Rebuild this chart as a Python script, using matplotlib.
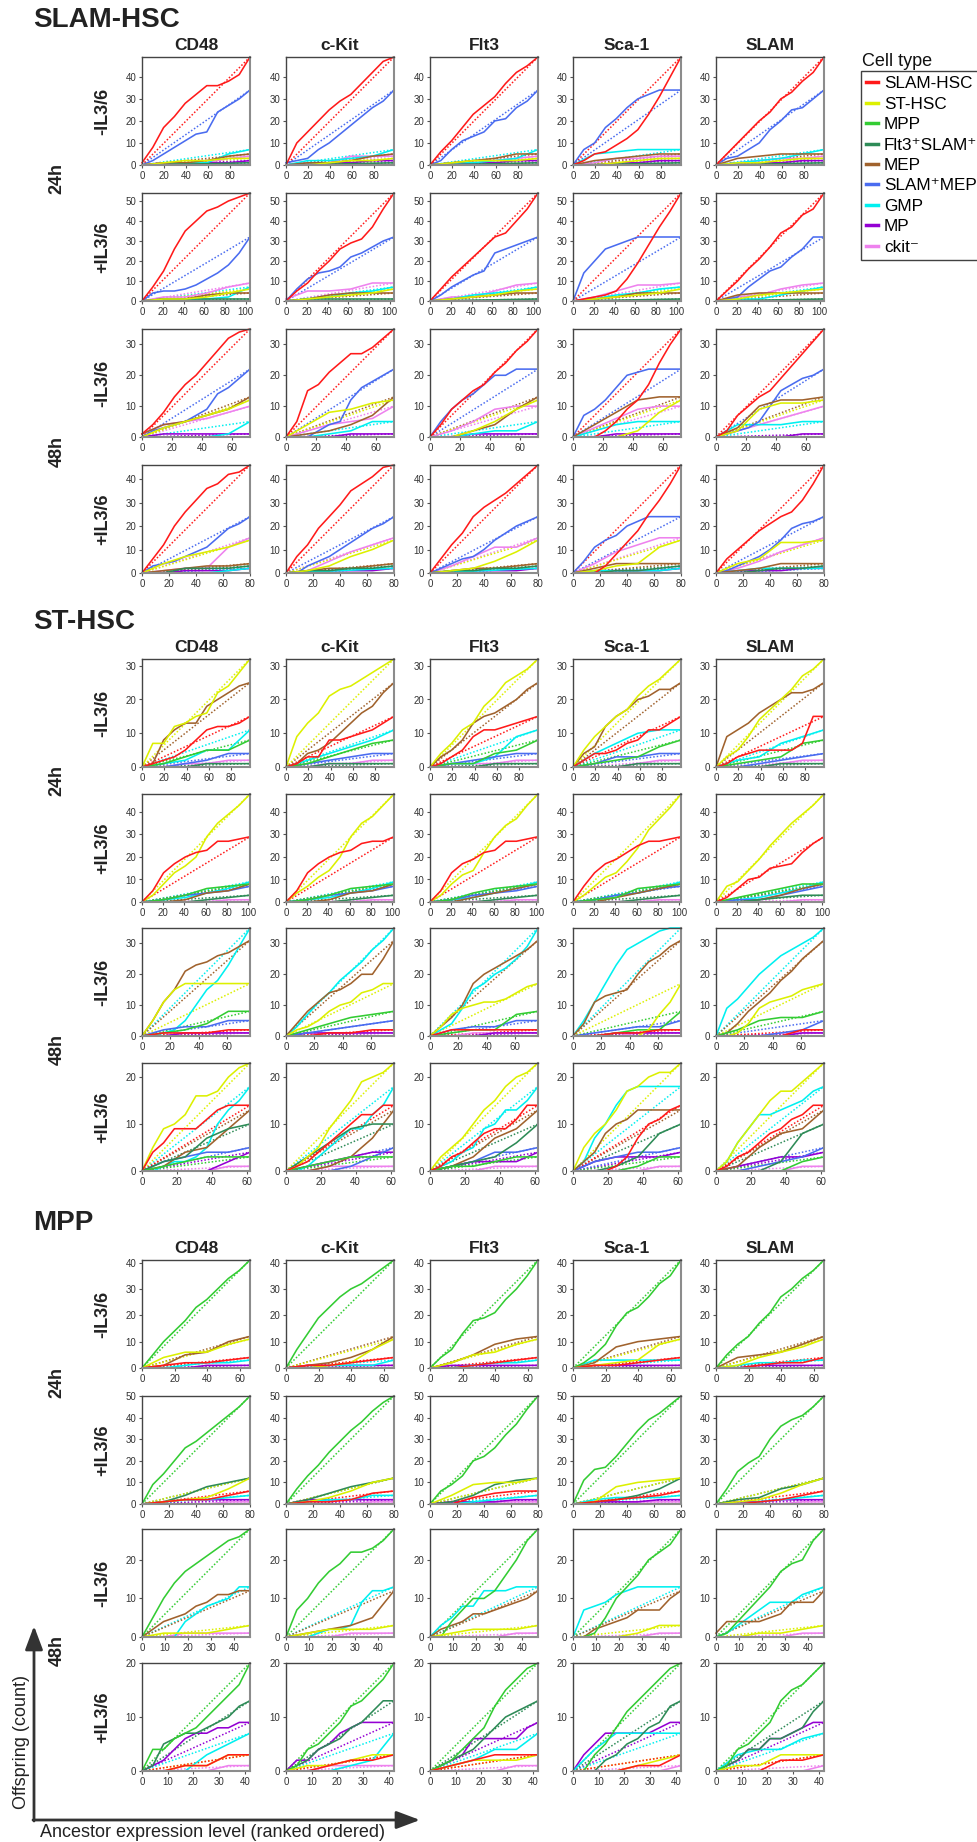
import numpy as np
import matplotlib
matplotlib.use('Agg')
import matplotlib.pyplot as plt
from matplotlib.lines import Line2D
from matplotlib.ticker import MultipleLocator

plt.rcParams['font.family'] = ['Liberation Sans', 'DejaVu Sans']

# cell types (legend order)
keys = ['slam', 'st', 'mpp', 'fs', 'mep', 'smep', 'gmp', 'mp', 'ckit']
labels = ['SLAM-HSC', 'ST-HSC', 'MPP', 'Flt3\u207aSLAM\u207a', 'MEP',
          'SLAM\u207aMEP', 'GMP', 'MP', 'ckit\u207b']
colors = ['#ff1a1a', '#dcf000', '#33cc33', '#2e8b57', '#a0622d',
          '#4a6cf0', '#00f0f0', '#9400d3', '#ee82ee']
markers = ['CD48', 'c-Kit', 'Flt3', 'Sca-1', 'SLAM']
row_labels = ['-IL3/6', '+IL3/6', '-IL3/6', '+IL3/6']

# number of ancestors per row
slam_n = [98, 104, 72, 80]
st_n = [97, 102, 76, 62]
mpp_n = [66, 80, 47, 42]

# total offspring per row
slam_tot = [
    dict(slam=49, st=3, mpp=0, fs=1, mep=5, smep=34, gmp=7, mp=2, ckit=4),
    dict(slam=54, st=6, mpp=0, fs=1, mep=4, smep=32, gmp=7, mp=0, ckit=9),
    dict(slam=35, st=12, mpp=0, fs=0, mep=13, smep=22, gmp=5, mp=1, ckit=10),
    dict(slam=46, st=14, mpp=0, fs=3, mep=4, smep=24, gmp=2, mp=2, ckit=15),
]
st_tot = [
    dict(slam=15, st=32, mpp=8, fs=1, mep=25, smep=4, gmp=11, mp=0, ckit=2),
    dict(slam=29, st=48, mpp=8, fs=3, mep=8, smep=7, gmp=9, mp=0, ckit=1),
    dict(slam=2, st=17, mpp=8, fs=0, mep=31, smep=5, gmp=35, mp=1, ckit=1),
    dict(slam=14, st=23, mpp=3, fs=10, mep=13, smep=5, gmp=18, mp=4, ckit=1),
]
mpp_tot = [
    dict(slam=4, st=11, mpp=41, fs=0, mep=12, smep=0, gmp=3, mp=1, ckit=0),
    dict(slam=6, st=12, mpp=50, fs=12, mep=0, smep=0, gmp=4, mp=2, ckit=1),
    dict(slam=0, st=3, mpp=28, fs=0, mep=12, smep=0, gmp=13, mp=0, ckit=1),
    dict(slam=3, st=3, mpp=20, fs=13, mep=0, smep=0, gmp=7, mp=9, ckit=1),
]

# cumulative offspring read at evenly spaced ranks (0 .. N)
slam_24_minus = {
    'CD48': dict(slam=[1, 8, 17, 22, 28, 32, 36, 36, 38, 41, 49], smep=[0, 2, 5, 8, 11, 14, 15, 24, 27, 30, 34],
                 gmp=[0, 0, 1, 1, 5, 7], mep=[0, 1, 1, 2, 4, 5], ckit=[0, 1, 1, 1, 3, 4], st=[0, 1, 2, 2, 3, 3], mp=[0, 1, 1, 1, 1, 2]),
    'c-Kit': dict(slam=[0, 10, 15, 20, 25, 29, 32, 37, 42, 47, 49], smep=[1, 2, 3, 7, 10, 14, 18, 22, 26, 29, 34],
                  gmp=[0, 2, 2, 3, 4, 7], mep=[0, 1, 1, 2, 4, 5], ckit=[0, 1, 1, 4, 4, 4], st=[0, 0, 1, 2, 2, 3], mp=[0, 0, 1, 1, 2, 2]),
    'Flt3': dict(slam=[0, 6, 11, 17, 23, 27, 31, 37, 42, 45, 49], smep=[0, 2, 7, 11, 13, 15, 20, 21, 26, 29, 34],
                 gmp=[0, 1, 1, 2, 3, 7], mep=[0, 1, 2, 3, 5, 5], ckit=[0, 1, 1, 2, 3, 4], st=[0, 1, 2, 2, 2, 3], mp=[0, 0, 1, 1, 2, 2]),
    'Sca-1': dict(slam=[0, 2, 5, 6, 9, 12, 16, 23, 31, 40, 49], smep=[0, 7, 10, 17, 21, 26, 30, 32, 34, 34, 34],
                  gmp=[0, 5, 6, 7, 7, 7], mep=[0, 2, 3, 4, 5, 5], ckit=[0, 1, 3, 3, 4, 4], st=[0, 0, 1, 2, 3, 3], mp=[0, 0, 1, 1, 2, 2]),
    'SLAM': dict(slam=[0, 5, 10, 15, 20, 24, 30, 33, 38, 42, 49], smep=[0, 3, 4, 7, 10, 16, 20, 25, 26, 30, 34],
                 mep=[0, 3, 4, 5, 5, 5], gmp=[0, 1, 2, 3, 5, 7], ckit=[0, 1, 2, 3, 3, 4], st=[0, 1, 1, 2, 3, 3], mp=[0, 1, 1, 1, 2, 2]),
}
slam_24_plus = {
    'CD48': dict(slam=[0, 7, 15, 26, 35, 40, 45, 47, 50, 52, 54], smep=[0, 4, 5, 5, 6, 8, 11, 14, 18, 24, 32],
                 ckit=[0, 2, 2, 4, 7, 9], gmp=[0, 0, 1, 1, 2, 7], mep=[0, 1, 1, 3, 4, 4], st=[0, 1, 1, 2, 4, 6], fs=[0, 1, 1, 1, 1, 1]),
    'c-Kit': dict(slam=[0, 5, 9, 15, 20, 26, 29, 31, 37, 46, 54], smep=[0, 6, 11, 14, 15, 17, 22, 24, 27, 30, 32],
                  ckit=[1, 5, 5, 6, 9, 9], gmp=[0, 1, 2, 4, 5, 7], mep=[0, 1, 3, 4, 4, 4], st=[0, 1, 2, 3, 4, 6], fs=[0, 1, 1, 1, 1, 1]),
    'Flt3': dict(slam=[0, 6, 12, 17, 22, 27, 32, 34, 40, 46, 54], smep=[0, 3, 7, 10, 13, 15, 24, 26, 28, 30, 32],
                 ckit=[0, 2, 2, 5, 8, 9], gmp=[0, 1, 3, 4, 5, 7], mep=[0, 1, 2, 3, 4, 4], st=[0, 1, 2, 3, 5, 6]),
    'Sca-1': dict(slam=[0, 1, 2, 3, 5, 11, 19, 28, 37, 45, 54], smep=[0, 14, 20, 26, 28, 30, 32, 32, 32, 32, 32],
                  ckit=[0, 2, 5, 8, 8, 9], gmp=[0, 1, 3, 4, 6, 7], mep=[0, 1, 2, 4, 4, 4], st=[0, 1, 2, 3, 4, 6]),
    'SLAM': dict(slam=[0, 5, 10, 16, 21, 27, 34, 37, 43, 46, 54], smep=[0, 1, 2, 7, 11, 15, 17, 22, 26, 32, 32],
                 ckit=[0, 2, 3, 6, 8, 9], gmp=[0, 1, 1, 3, 5, 7], mep=[0, 3, 4, 4, 4, 4], st=[0, 1, 3, 4, 5, 6]),
}
slam_48_minus = {
    'CD48': dict(slam=[1, 4, 8, 13, 17, 20, 24, 28, 32, 34, 35], smep=[0, 2, 3, 4, 5, 7, 9, 14, 16, 19, 22],
                 mep=[1, 4, 5, 7, 9, 13], st=[0, 3, 5, 7, 9, 12], ckit=[1, 4, 5, 6, 8, 10], gmp=[0, 0, 0, 0, 1, 5], mp=[0, 1, 1, 1, 1, 1]),
    'c-Kit': dict(slam=[0, 5, 15, 17, 21, 24, 27, 27, 29, 32, 35], smep=[0, 0, 0, 2, 4, 5, 12, 16, 18, 20, 22],
                  st=[0, 4, 8, 9, 11, 12], mep=[0, 1, 2, 4, 7, 13], ckit=[0, 2, 4, 5, 6, 10], gmp=[0, 0, 1, 2, 5, 5], mp=[0, 0, 0, 1, 1, 1]),
    'Flt3': dict(slam=[0, 4, 9, 12, 15, 17, 21, 24, 28, 31, 35], smep=[0, 5, 9, 12, 14, 17, 20, 20, 22, 22, 22],
                 mep=[0, 0, 2, 4, 9, 13], ckit=[0, 2, 5, 9, 10, 10], st=[0, 0, 2, 5, 9, 12], gmp=[0, 0, 1, 2, 2, 5], mp=[0, 0, 1, 1, 1, 1]),
    'Sca-1': dict(slam=[0, 0, 0, 2, 5, 9, 12, 17, 24, 30, 35], smep=[0, 7, 9, 12, 16, 20, 21, 22, 22, 22, 22],
                  mep=[0, 4, 8, 12, 13, 13], ckit=[0, 3, 6, 9, 10, 10], st=[0, 0, 0, 2, 8, 12], gmp=[0, 2, 4, 5, 5, 5], mp=[0, 0, 1, 1, 1, 1]),
    'SLAM': dict(slam=[0, 2, 7, 10, 13, 15, 19, 23, 27, 31, 35], smep=[0, 1, 2, 3, 5, 10, 15, 17, 19, 20, 22],
                 mep=[0, 3, 10, 12, 12, 13], st=[0, 2, 9, 11, 11, 12], gmp=[0, 4, 4, 4, 5, 5], ckit=[0, 2, 4, 6, 8, 10], mp=[0, 0, 0, 0, 1, 1]),
}
slam_48_plus = {
    'CD48': dict(slam=[0, 6, 12, 20, 26, 31, 36, 38, 42, 43, 46], smep=[0, 3, 4, 5, 7, 9, 11, 15, 19, 21, 24],
                 st=[0, 4, 7, 9, 11, 14], ckit=[0, 1, 2, 2, 11, 15], mep=[0, 1, 2, 3, 3, 4], fs=[0, 0, 2, 2, 2, 3], mp=[0, 0, 1, 1, 1, 2], gmp=[0, 0, 0, 0, 1, 2]),
    'c-Kit': dict(slam=[0, 7, 12, 19, 24, 29, 35, 38, 41, 45, 46], smep=[0, 0, 3, 5, 7, 10, 13, 16, 19, 21, 24],
                  st=[0, 1, 3, 7, 10, 14], ckit=[0, 1, 5, 9, 12, 15], mep=[0, 1, 2, 2, 3, 4], fs=[0, 1, 1, 2, 2, 3], mp=[0, 0, 1, 1, 1, 2]),
    'Flt3': dict(slam=[0, 6, 12, 17, 24, 28, 31, 34, 38, 42, 46], smep=[0, 2, 4, 6, 7, 10, 14, 17, 20, 22, 24],
                 ckit=[0, 3, 7, 11, 11, 15], st=[0, 1, 2, 5, 9, 14], mep=[0, 1, 2, 2, 3, 4], fs=[0, 1, 1, 2, 2, 3], mp=[0, 0, 1, 1, 1, 2]),
    'Sca-1': dict(slam=[0, 0, 0, 3, 8, 13, 18, 25, 31, 38, 46], smep=[0, 5, 11, 14, 16, 20, 22, 24, 24, 24, 24],
                  ckit=[0, 4, 9, 12, 15, 15], st=[0, 1, 3, 4, 11, 14], mep=[0, 2, 4, 4, 4, 4], fs=[0, 0, 1, 1, 2, 3], mp=[0, 1, 1, 1, 1, 2], gmp=[0, 1, 1, 1, 1, 2]),
    'SLAM': dict(slam=[0, 6, 10, 14, 18, 21, 24, 26, 31, 38, 46], smep=[0, 1, 3, 5, 7, 10, 14, 19, 21, 22, 24],
                 st=[0, 4, 6, 13, 13, 14], ckit=[0, 2, 5, 9, 12, 15], mep=[0, 1, 2, 4, 4, 4], fs=[0, 0, 1, 2, 2, 3], mp=[0, 1, 1, 1, 2, 2], gmp=[0, 1, 2, 2, 2, 2]),
}

st_24_minus = {
    'CD48': dict(st=[0, 7, 7, 12, 13, 15, 16, 22, 24, 28, 32], mep=[0, 1, 8, 11, 13, 13, 18, 20, 22, 24, 25],
                 slam=[0, 1, 2, 3, 5, 8, 11, 12, 12, 13, 15], gmp=[0, 1, 2, 5, 5, 11], mpp=[0, 1, 3, 5, 5, 8],
                 smep=[0, 0, 1, 2, 4, 4], ckit=[0, 0, 1, 1, 2, 2], fs=[0, 0, 0, 1, 1, 1]),
    'c-Kit': dict(st=[0, 9, 13, 16, 21, 23, 24, 26, 28, 30, 32], mep=[0, 1, 4, 5, 7, 10, 13, 16, 18, 22, 25],
                  slam=[0, 1, 3, 3, 8, 8, 9, 10, 11, 13, 15], gmp=[0, 2, 4, 6, 8, 11], mpp=[0, 1, 3, 5, 7, 8],
                  smep=[0, 1, 2, 3, 4, 4], ckit=[0, 0, 1, 1, 2, 2], fs=[0, 0, 1, 1, 1, 1]),
    'Flt3': dict(st=[0, 4, 7, 11, 13, 18, 21, 25, 27, 29, 32], mep=[0, 3, 5, 8, 13, 15, 16, 18, 20, 23, 25],
                 slam=[0, 1, 3, 5, 9, 11, 11, 12, 13, 14, 15], gmp=[0, 1, 1, 3, 9, 11], mpp=[0, 1, 1, 4, 5, 8],
                 smep=[0, 1, 2, 3, 4, 4], ckit=[0, 1, 1, 1, 2, 2], fs=[0, 0, 0, 1, 1, 1]),
    'Sca-1': dict(st=[0, 5, 9, 12, 15, 17, 21, 24, 26, 29, 32], mep=[0, 4, 6, 12, 15, 17, 20, 21, 23, 23, 25],
                  slam=[0, 2, 4, 4, 5, 7, 8, 11, 11, 13, 15], gmp=[0, 4, 7, 10, 11, 11], mpp=[0, 1, 2, 3, 6, 8],
                  smep=[0, 1, 3, 3, 4, 4], ckit=[0, 0, 0, 1, 2, 2], fs=[0, 0, 0, 1, 1, 1]),
    'SLAM': dict(mep=[0, 9, 11, 13, 16, 18, 20, 22, 22, 23, 25], st=[0, 3, 5, 9, 14, 17, 20, 23, 27, 29, 32],
                 slam=[0, 1, 3, 4, 5, 5, 5, 5, 7, 15, 15], gmp=[0, 2, 3, 7, 9, 11], mpp=[0, 1, 2, 3, 7, 8],
                 smep=[0, 0, 1, 2, 3, 4], ckit=[0, 0, 0, 1, 2, 2], fs=[0, 0, 0, 1, 1, 1]),
}
st_24_plus = {
    'CD48': dict(st=[0, 3, 8, 13, 16, 20, 29, 35, 39, 43, 48], slam=[0, 5, 13, 17, 20, 22, 23, 27, 27, 28, 29],
                 gmp=[0, 1, 2, 4, 6, 9], mpp=[0, 1, 3, 6, 7, 8], mep=[0, 0, 1, 4, 5, 8], smep=[0, 1, 3, 4, 5, 7],
                 fs=[0, 0, 0, 1, 2, 3], ckit=[0, 0, 0, 0, 1, 1]),
    'c-Kit': dict(st=[0, 4, 7, 11, 14, 20, 29, 35, 38, 43, 48], slam=[0, 5, 13, 17, 20, 22, 23, 26, 27, 27, 29],
                  gmp=[0, 1, 2, 4, 6, 9], mpp=[0, 1, 3, 6, 7, 8], mep=[0, 0, 1, 4, 5, 8], smep=[0, 1, 3, 4, 5, 7],
                  fs=[0, 0, 0, 1, 2, 3], ckit=[0, 0, 0, 0, 1, 1]),
    'Flt3': dict(st=[0, 3, 8, 12, 14, 22, 29, 34, 37, 43, 48], slam=[0, 5, 13, 17, 19, 22, 23, 27, 27, 28, 29],
                 gmp=[0, 1, 2, 4, 6, 9], mpp=[0, 1, 4, 6, 7, 8], mep=[0, 0, 2, 4, 6, 8], smep=[0, 1, 3, 4, 5, 7],
                 fs=[0, 0, 0, 1, 2, 3], ckit=[0, 0, 0, 0, 1, 1]),
    'Sca-1': dict(st=[0, 3, 7, 11, 13, 18, 24, 32, 37, 42, 48], slam=[0, 7, 13, 17, 19, 22, 25, 27, 27, 28, 29],
                  gmp=[0, 1, 3, 4, 6, 9], mpp=[0, 1, 2, 6, 7, 8], mep=[0, 0, 2, 4, 6, 8], smep=[0, 1, 3, 4, 6, 7],
                  fs=[0, 0, 0, 1, 2, 3], ckit=[0, 0, 0, 0, 1, 1]),
    'SLAM': dict(st=[0, 7, 9, 14, 19, 25, 30, 35, 39, 43, 48], slam=[0, 2, 6, 10, 11, 15, 16, 17, 22, 26, 29],
                 gmp=[0, 1, 2, 4, 6, 9], mpp=[0, 2, 4, 6, 8, 8], mep=[0, 0, 1, 3, 6, 8], smep=[0, 1, 1, 3, 5, 7],
                 fs=[0, 0, 1, 2, 3, 3], ckit=[0, 0, 0, 0, 1, 1]),
}
st_48_minus = {
    'CD48': dict(gmp=[0, 0, 1, 2, 5, 10, 15, 18, 23, 29, 35], mep=[0, 5, 11, 15, 21, 23, 24, 26, 27, 29, 31],
                 st=[0, 5, 11, 15, 17, 17, 17, 17, 17, 17, 17], mpp=[0, 1, 2, 4, 8, 8], smep=[0, 2, 3, 3, 5, 5],
                 slam=[0, 1, 1, 1, 2, 2], ckit=[0, 0, 1, 1, 1, 1], mp=[0, 0, 1, 1, 1, 1]),
    'c-Kit': dict(gmp=[0, 3, 7, 11, 14, 18, 21, 24, 28, 31, 35], mep=[0, 4, 8, 11, 14, 15, 17, 20, 20, 25, 31],
                  st=[0, 2, 3, 5, 8, 10, 11, 14, 15, 17, 17], mpp=[0, 2, 4, 6, 7, 8], smep=[0, 1, 2, 3, 4, 5],
                  slam=[0, 0, 1, 1, 2, 2], ckit=[0, 0, 1, 1, 1, 1], mp=[0, 1, 1, 1, 1, 1]),
    'Flt3': dict(mep=[0, 3, 6, 10, 17, 20, 22, 24, 26, 28, 31], gmp=[0, 2, 4, 9, 15, 17, 20, 22, 25, 29, 35],
                 st=[0, 3, 7, 9, 10, 11, 11, 12, 14, 16, 17], mpp=[0, 1, 2, 2, 7, 8], smep=[0, 2, 3, 3, 5, 5],
                 slam=[0, 2, 2, 2, 2, 2], ckit=[0, 0, 1, 1, 1, 1], mp=[0, 0, 0, 1, 1, 1]),
    'Sca-1': dict(gmp=[0, 5, 11, 17, 23, 28, 30, 32, 34, 35, 35], mep=[0, 4, 11, 13, 14, 15, 20, 24, 26, 29, 31],
                  st=[0, 0, 0, 0, 0, 0, 0, 2, 7, 11, 17], mpp=[0, 0, 1, 2, 2, 8], smep=[0, 1, 2, 3, 3, 5],
                  slam=[0, 0, 1, 1, 2, 2], ckit=[0, 0, 0, 1, 1, 1], mp=[0, 0, 1, 1, 1, 1]),
    'SLAM': dict(gmp=[0, 9, 12, 16, 20, 23, 26, 28, 30, 32, 35], mep=[0, 1, 4, 8, 11, 14, 18, 21, 25, 28, 31],
                 st=[0, 0, 1, 4, 9, 11, 12, 13, 15, 16, 17], mpp=[0, 2, 5, 6, 6, 8], smep=[0, 0, 0, 1, 2, 5],
                 slam=[0, 0, 0, 0, 2, 2], ckit=[0, 0, 0, 1, 1, 1], mp=[0, 0, 0, 0, 1, 1]),
}
st_48_plus = {
    'CD48': dict(st=[0, 5, 9, 10, 12, 16, 16, 17, 20, 22, 23], gmp=[0, 0, 1, 2, 2, 3, 5, 10, 13, 15, 18],
                 slam=[0, 4, 6, 9, 9, 9, 11, 13, 14, 14, 14], mep=[0, 1, 4, 5, 9, 13], fs=[0, 2, 3, 7, 9, 10],
                 smep=[0, 2, 3, 4, 4, 5], mp=[0, 0, 0, 0, 2, 4], mpp=[0, 1, 2, 3, 3, 3], ckit=[0, 0, 0, 0, 1, 1]),
    'c-Kit': dict(st=[0, 1, 3, 5, 9, 12, 15, 19, 20, 21, 23], gmp=[0, 0, 1, 3, 5, 7, 9, 9, 12, 14, 18],
                  slam=[0, 1, 2, 4, 6, 8, 10, 12, 12, 14, 14], fs=[0, 3, 6, 9, 10, 10], mep=[0, 0, 1, 3, 7, 13],
                  smep=[0, 0, 0, 1, 3, 5], mp=[0, 1, 2, 3, 4, 4], mpp=[0, 1, 2, 3, 3, 3], ckit=[0, 0, 1, 1, 1, 1]),
    'Flt3': dict(st=[0, 3, 5, 7, 10, 13, 15, 18, 20, 21, 23], gmp=[0, 1, 2, 4, 5, 9, 10, 13, 13, 15, 18],
                 slam=[0, 1, 3, 4, 6, 8, 9, 9, 11, 14, 14], fs=[0, 1, 2, 3, 6, 10], mep=[0, 1, 3, 7, 9, 13],
                 smep=[0, 1, 2, 4, 4, 5], mp=[0, 1, 2, 2, 2, 4], mpp=[0, 1, 1, 2, 3, 3], ckit=[0, 0, 0, 1, 1, 1]),
    'Sca-1': dict(st=[0, 5, 8, 10, 13, 17, 18, 20, 21, 21, 23], gmp=[0, 2, 7, 10, 14, 17, 18, 18, 18, 18, 18],
                  mep=[0, 2, 4, 8, 10, 11, 13, 13, 13, 13, 13], slam=[0, 0, 0, 0, 1, 3, 7, 10, 11, 13, 14],
                  fs=[0, 0, 1, 3, 8, 10], mp=[0, 2, 3, 3, 3, 4], smep=[0, 2, 3, 4, 4, 5], mpp=[0, 0, 0, 1, 3, 3], ckit=[0, 0, 0, 0, 1, 1]),
    'SLAM': dict(st=[0, 2, 6, 9, 12, 15, 17, 17, 19, 21, 23], gmp=[0, 2, 6, 9, 12, 12, 13, 14, 15, 17, 18],
                 slam=[0, 1, 3, 4, 6, 8, 9, 11, 12, 14, 14], fs=[0, 0, 0, 2, 8, 10], mep=[0, 1, 5, 8, 9, 13],
                 mp=[0, 1, 2, 3, 3, 4], smep=[0, 0, 1, 2, 3, 5], mpp=[0, 0, 0, 0, 2, 3], ckit=[0, 0, 0, 0, 1, 1]),
}

mpp_24_minus = {
    'CD48': dict(mpp=[0, 5, 10, 14, 18, 23, 26, 30, 34, 37, 41], mep=[0, 1, 5, 6, 10, 12], st=[0, 4, 6, 6, 9, 11],
                 slam=[0, 1, 2, 2, 3, 4], gmp=[0, 0, 1, 2, 2, 3], mp=[0, 0, 0, 1, 1, 1]),
    'c-Kit': dict(mpp=[0, 7, 13, 19, 23, 27, 30, 32, 35, 38, 41], mep=[0, 1, 2, 4, 7, 12], st=[0, 0, 1, 2, 7, 11],
                  slam=[0, 1, 1, 2, 3, 4], gmp=[0, 0, 1, 1, 1, 3], mp=[0, 1, 1, 1, 1, 1]),
    'Flt3': dict(mpp=[0, 4, 7, 13, 18, 19, 21, 26, 30, 35, 41], mep=[0, 2, 5, 9, 11, 12], st=[0, 2, 5, 6, 9, 11],
                 slam=[0, 0, 1, 2, 3, 4], gmp=[0, 0, 1, 2, 2, 3], mp=[0, 1, 1, 1, 1, 1]),
    'Sca-1': dict(mpp=[0, 2, 5, 9, 16, 21, 23, 27, 32, 35, 41], mep=[0, 2, 8, 10, 11, 12], st=[0, 1, 2, 3, 9, 11],
                  gmp=[0, 3, 3, 3, 3, 3], slam=[0, 1, 1, 2, 3, 4], mp=[0, 1, 1, 1, 1, 1]),
    'SLAM': dict(mpp=[0, 5, 9, 12, 17, 21, 27, 30, 34, 37, 41], mep=[0, 4, 5, 6, 9, 12], st=[0, 1, 4, 6, 8, 11],
                 slam=[0, 0, 1, 2, 2, 4], gmp=[0, 1, 2, 2, 3, 3], mp=[0, 0, 1, 1, 1, 1]),
}
mpp_24_plus = {
    'CD48': dict(mpp=[0, 9, 14, 20, 26, 29, 33, 37, 41, 45, 50], fs=[0, 1, 4, 8, 10, 12], st=[0, 1, 2, 3, 7, 12],
                 slam=[0, 1, 2, 2, 4, 6], gmp=[0, 1, 2, 2, 3, 4], mp=[0, 1, 2, 2, 2, 2], ckit=[0, 0, 0, 0, 1, 1]),
    'c-Kit': dict(mpp=[0, 7, 13, 18, 24, 29, 34, 38, 43, 47, 50], fs=[0, 2, 5, 8, 10, 12], st=[0, 1, 3, 6, 10, 12],
                  slam=[0, 1, 1, 2, 5, 6], gmp=[0, 1, 2, 2, 4, 4], mp=[0, 2, 2, 2, 2, 2], ckit=[0, 0, 0, 0, 1, 1]),
    'Flt3': dict(mpp=[0, 6, 9, 13, 20, 22, 26, 32, 37, 44, 50], st=[0, 4, 9, 10, 10, 12], fs=[0, 1, 4, 9, 11, 12],
                 slam=[0, 0, 3, 5, 6, 6], gmp=[0, 0, 1, 2, 3, 4], mp=[0, 1, 1, 1, 2, 2], ckit=[0, 0, 0, 1, 1, 1]),
    'Sca-1': dict(mpp=[0, 11, 16, 17, 22, 28, 34, 39, 42, 46, 50], st=[0, 1, 8, 10, 11, 12], fs=[0, 1, 2, 4, 7, 12],
                  slam=[0, 1, 2, 3, 4, 6], gmp=[0, 2, 3, 3, 3, 4], mp=[0, 1, 1, 1, 2, 2], ckit=[0, 0, 0, 1, 1, 1]),
    'SLAM': dict(mpp=[0, 7, 15, 19, 22, 30, 36, 39, 41, 45, 50], fs=[0, 2, 3, 7, 9, 12], st=[0, 1, 2, 5, 9, 12],
                 slam=[0, 0, 1, 2, 4, 6], gmp=[0, 0, 1, 2, 3, 4], mp=[0, 1, 1, 2, 2, 2], ckit=[0, 0, 0, 0, 1, 1]),
}
mpp_48_minus = {
    'CD48': dict(mpp=[0, 5, 10, 14, 17, 19, 21, 23, 25, 26, 28], mep=[0, 2, 4, 5, 6, 8, 9, 11, 11, 12, 12],
                 gmp=[0, 0, 0, 0, 4, 6, 8, 9, 10, 13, 13], st=[0, 1, 1, 1, 2, 3], ckit=[0, 0, 1, 1, 1, 1]),
    'c-Kit': dict(mpp=[0, 7, 10, 14, 17, 19, 22, 22, 23, 25, 28], gmp=[0, 0, 0, 1, 2, 2, 3, 9, 12, 12, 13],
                  mep=[0, 1, 2, 3, 5, 12], st=[0, 1, 2, 2, 2, 3], ckit=[0, 0, 0, 1, 1, 1]),
    'Flt3': dict(mpp=[0, 0, 4, 7, 10, 10, 12, 16, 20, 25, 28], gmp=[0, 3, 5, 8, 8, 12, 12, 12, 13, 13, 13],
                 mep=[0, 2, 3, 4, 6, 6, 7, 8, 9, 10, 12], st=[0, 1, 2, 2, 2, 3], ckit=[0, 0, 0, 0, 1, 1]),
    'Sca-1': dict(mpp=[0, 0, 1, 5, 10, 13, 16, 20, 22, 24, 28], gmp=[0, 7, 8, 9, 11, 12, 13, 13, 13, 13, 13],
                  mep=[0, 0, 2, 3, 4, 5, 7, 7, 7, 10, 12], st=[0, 0, 0, 1, 3, 3], ckit=[0, 0, 0, 0, 1, 1]),
    'SLAM': dict(mpp=[0, 1, 4, 7, 10, 13, 17, 19, 20, 25, 28], mep=[1, 4, 4, 4, 4, 5, 6, 9, 9, 9, 12],
                 gmp=[0, 1, 3, 5, 7, 9, 9, 9, 11, 12, 13], st=[0, 0, 1, 1, 2, 3], ckit=[0, 0, 0, 0, 1, 1]),
}
mpp_48_plus = {
    'CD48': dict(mpp=[0, 4, 4, 6, 7, 8, 10, 12, 14, 16, 20], fs=[0, 1, 5, 6, 7, 7, 8, 9, 10, 12, 13],
                 mp=[0, 1, 2, 4, 6, 7, 7, 8, 8, 9, 9], gmp=[0, 0, 0, 3, 5, 7], st=[0, 0, 1, 1, 3, 3],
                 slam=[0, 0, 1, 1, 3, 3], ckit=[0, 0, 0, 0, 1, 1]),
    'c-Kit': dict(mpp=[0, 1, 4, 5, 7, 9, 12, 13, 15, 17, 20], fs=[0, 1, 2, 4, 5, 6, 8, 9, 11, 13, 13],
                  mp=[0, 2, 2, 4, 5, 7, 8, 9, 9, 9, 9], gmp=[0, 0, 0, 1, 2, 7], st=[0, 1, 1, 2, 3, 3],
                  slam=[0, 0, 1, 2, 2, 3], ckit=[0, 0, 1, 1, 1, 1]),
    'Flt3': dict(mpp=[0, 1, 2, 4, 6, 8, 12, 15, 17, 19, 20], fs=[0, 1, 2, 3, 4, 6, 8, 10, 11, 12, 13],
                 mp=[0, 1, 2, 3, 6, 6, 6, 6, 6, 8, 9], gmp=[0, 1, 2, 4, 4, 7], st=[0, 1, 2, 2, 2, 3],
                 slam=[0, 1, 2, 3, 3, 3], ckit=[0, 0, 0, 0, 1, 1]),
    'Sca-1': dict(mpp=[0, 0, 3, 5, 8, 11, 13, 15, 17, 19, 20], fs=[0, 0, 0, 2, 3, 5, 6, 8, 9, 12, 13],
                  mp=[0, 3, 5, 7, 7, 7, 7, 7, 8, 9, 9], gmp=[0, 4, 7, 7, 7, 7], st=[0, 0, 0, 1, 2, 3],
                  slam=[0, 0, 0, 1, 1, 3], ckit=[0, 0, 0, 0, 0, 1]),
    'SLAM': dict(mpp=[0, 1, 4, 5, 7, 9, 13, 15, 16, 18, 20], fs=[0, 1, 2, 4, 4, 6, 6, 7, 8, 11, 13],
                 mp=[0, 1, 2, 4, 4, 6, 6, 7, 8, 9, 9], gmp=[0, 3, 4, 4, 6, 7], st=[0, 1, 1, 3, 3, 3],
                 slam=[0, 0, 0, 2, 2, 3], ckit=[0, 0, 0, 0, 0, 1]),
}

# ---- layout (pixels from top-left) ----
W, H = 978, 1842
col_x = [142, 286, 430, 573, 716]
box = 108
sections = [
    ('SLAM-HSC', [slam_24_minus, slam_24_plus, slam_48_minus, slam_48_plus], slam_n, slam_tot,
     [20, 20, 20, 20], [57, 193, 329, 465]),
    ('ST-HSC', [st_24_minus, st_24_plus, st_48_minus, st_48_plus], st_n, st_tot,
     [20, 20, 20, 20], [659, 794, 928, 1063]),
    ('MPP', [mpp_24_minus, mpp_24_plus, mpp_48_minus, mpp_48_plus], mpp_n, mpp_tot,
     [20, 20, 10, 10], [1260, 1396, 1529, 1663]),
]

fig = plt.figure(figsize=(W / 100, H / 100), dpi=100)

bg = fig.add_axes([0, 0, 1, 1])
bg.set_xlim(0, W)
bg.set_ylim(H, 0)
bg.axis('off')


def panel(x, y):
    return fig.add_axes([x / W, 1 - (y + box) / H, box / W, box / H])


for title, rows, ns, tots, xsteps, tops in sections:
    bg.text(33, tops[0] - 37, title, fontsize=20, fontweight='bold', ha='left', va='center', color='#222')
    for c, m in enumerate(markers):
        bg.text(col_x[c] + box / 2, tops[0] - 12, m, fontsize=12.5, fontweight='bold',
                ha='center', va='center', color='#222')
    for r in range(4):
        bg.text(103, tops[r] + box / 2, row_labels[r], rotation=90, fontsize=13, fontweight='bold',
                ha='center', va='center', color='#222')
    for r, tlab in [(0, '24h'), (2, '48h')]:
        bg.text(57, (tops[r] + tops[r + 1] + box) / 2, tlab, rotation=90, fontsize=13,
                fontweight='bold', ha='center', va='center', color='#222')

    for r in range(4):
        n = ns[r]
        tot = tots[r]
        ymax = max(tot.values())
        for c, m in enumerate(markers):
            ax = panel(col_x[c], tops[r])
            curves = rows[r][m]
            for k in reversed(range(len(keys))):
                key = keys[k]
                ax.plot([0, n], [0, tot[key]], color=colors[k], lw=1.1,
                        linestyle=(0, (1, 1.3)), clip_on=False)
            for k in reversed(range(len(keys))):
                key = keys[k]
                vals = curves.get(key, [0, tot[key]])
                xs = np.linspace(0, n, len(vals))
                ax.plot(xs, vals, color=colors[k], lw=1.15, clip_on=False)
            ax.set_xlim(0, n)
            ax.set_ylim(0, ymax)
            ax.xaxis.set_major_locator(MultipleLocator(xsteps[r]))
            ax.yaxis.set_major_locator(MultipleLocator(10))
            ax.tick_params(labelsize=7, length=2.5, width=0.8, pad=1.5,
                           colors='#555', labelcolor='#333')
            for s in ['left', 'top']:
                ax.spines[s].set_color('#444')
                ax.spines[s].set_linewidth(1.0)
            for s in ['right', 'bottom']:
                ax.spines[s].set_color('#8c8c8c')
                ax.spines[s].set_linewidth(1.5)

# legend
handles = [Line2D([0], [0], color=col, lw=2.5) for col in colors]
bg.text(862, 62, 'Cell type', fontsize=13, ha='left', va='center', color='#111')
leg = fig.legend(handles, labels, loc='upper left', bbox_to_anchor=(861 / W, 1 - 71 / H),
                 fontsize=12.3, frameon=True, fancybox=False, edgecolor='#111',
                 handlelength=0.7, handletextpad=0.35, labelspacing=0.32, borderpad=0.3,
                 borderaxespad=0)
leg.get_frame().set_linewidth(1.0)

# axis arrows
bg.annotate('', xy=(34, 1626), xytext=(34, 1821),
            arrowprops=dict(arrowstyle='-|>,head_length=0.8,head_width=0.3', lw=2,
                            color='#333', mutation_scale=18, shrinkA=0, shrinkB=0))
bg.annotate('', xy=(420, 1820), xytext=(33, 1820),
            arrowprops=dict(arrowstyle='-|>,head_length=0.8,head_width=0.3', lw=2,
                            color='#333', mutation_scale=18, shrinkA=0, shrinkB=0))
bg.text(22, 1742, 'Offspring (count)', rotation=90, fontsize=13, ha='center', va='center', color='#222')
bg.text(40, 1832, 'Ancestor expression level (ranked ordered)', fontsize=13,
        ha='left', va='center', color='#222')

fig.savefig('out.png', dpi=100)
